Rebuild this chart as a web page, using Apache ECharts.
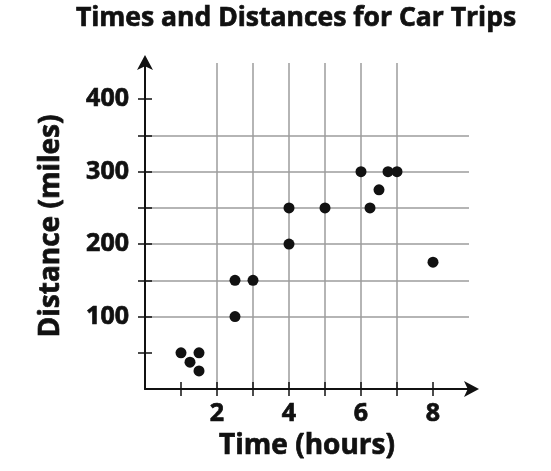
<!DOCTYPE html>
<html>
<head>
<meta charset="utf-8">
<script src="https://cdn.jsdelivr.net/npm/echarts@6/dist/echarts.min.js"></script>
<style>
html,body{margin:0;padding:0;background:#fff;}
#chart{width:551px;height:471px;}
</style>
</head>
<body>
<div id="chart"></div>
<script>
// Data
const timeHours = [1, 1.25, 1.5, 1.5, 2.5, 2.5, 3, 4, 4, 5, 6, 6.25, 6.5, 6.75, 7, 8];
const distanceMiles = [50, 37, 50, 25, 100, 150, 150, 200, 250, 250, 300, 250, 275, 300, 300, 175];
const xTickValues = [1, 2, 3, 4, 5, 6, 7, 8];
const xLabelValues = [2, 4, 6, 8];
const yTickValues = [50, 100, 150, 200, 250, 300, 350, 400];
const yLabelValues = [100, 200, 300, 400];

const points = timeHours.map((t, i) => [t, distanceMiles[i]]);
const FONT = '"Open Sans", sans-serif';
const INK = '#111';
const heavy = {fontFamily: FONT, fontWeight: 'bold', color: INK, textBorderColor: INK, textBorderWidth: 0.7};

const chart = echarts.init(document.getElementById('chart'), null, {renderer: 'canvas'});
const gridColor = '#9d9d9d';

chart.setOption({
  animation: false,
  backgroundColor: '#ffffff',
  title: {
    text: 'Times and Distances for Car Trips',
    left: 291, top: 0, textAlign: 'center',
    textStyle: Object.assign({fontSize: 26.5}, heavy)
  },
  grid: {left: 145, right: 82, top: 63, bottom: 82},
  xAxis: [{
    type: 'value', min: 0, max: 9, interval: 1,
    name: 'Time (hours)', nameLocation: 'middle', nameGap: 43,
    nameTextStyle: Object.assign({fontSize: 28}, heavy),
    axisLine: {show: true, lineStyle: {color: INK, width: 2}, symbol: ['none', 'arrow'], symbolSize: [12, 15], symbolOffset: [0, 10]},
    axisTick: {show: true, length: 7, lineStyle: {color: INK, width: 1.5}, customValues: xTickValues},
    axisLabel: Object.assign({fontSize: 25, margin: 12, customValues: xLabelValues}, heavy),
    splitLine: {show: true, showMinLine: false, showMaxLine: false, lineStyle: {color: gridColor, width: 1.5}}
  }, {
    type: 'value', min: 0, max: 9, interval: 1, position: 'bottom',
    axisLine: {show: false},
    axisTick: {show: true, inside: true, length: 7, lineStyle: {color: INK, width: 1.5}, customValues: xTickValues},
    axisLabel: {show: false},
    splitLine: {show: false}
  }],
  yAxis: [{
    type: 'value', min: 0, max: 450, interval: 50,
    name: 'Distance (miles)', nameLocation: 'middle', nameGap: 80,
    nameTextStyle: Object.assign({fontSize: 28}, heavy),
    axisLine: {show: true, lineStyle: {color: INK, width: 2}, symbol: ['none', 'arrow'], symbolSize: [12, 15], symbolOffset: [0, 8]},
    axisTick: {show: true, length: 7, lineStyle: {color: INK, width: 1.5}, customValues: yTickValues},
    axisLabel: Object.assign({fontSize: 25, margin: 16, customValues: yLabelValues}, heavy),
    splitLine: {show: true, showMinLine: false, showMaxLine: false, lineStyle: {color: gridColor, width: 1.5}}
  }, {
    type: 'value', min: 0, max: 450, interval: 50, position: 'left',
    axisLine: {show: false},
    axisTick: {show: true, inside: true, length: 7, lineStyle: {color: INK, width: 1.5}, customValues: yTickValues},
    axisLabel: {show: false},
    splitLine: {show: false}
  }],
  series: [{
    type: 'scatter',
    xAxisIndex: 0, yAxisIndex: 0,
    data: points,
    symbol: 'circle',
    symbolSize: 11,
    itemStyle: {color: INK, opacity: 1},
    z: 5
  }]
});
</script>
</body>
</html>
